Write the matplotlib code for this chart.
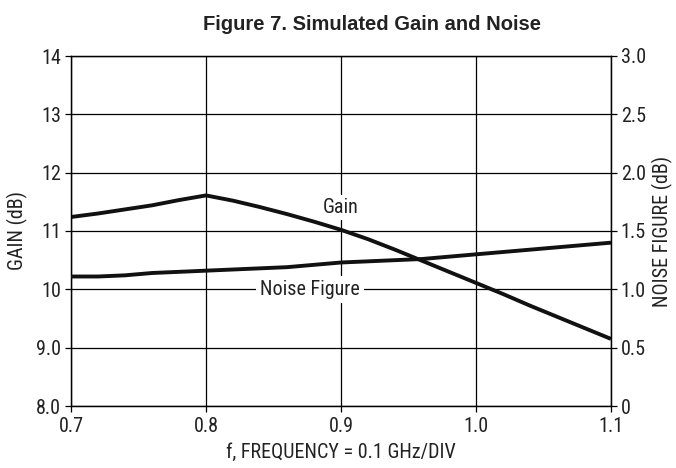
import matplotlib
matplotlib.use("Agg")
import matplotlib.pyplot as plt
from matplotlib import font_manager

freq = [0.70, 0.72, 0.74, 0.76, 0.78, 0.80, 0.82, 0.84, 0.86, 0.88, 0.90,
        0.92, 0.94, 0.96, 0.98, 1.00, 1.02, 1.04, 1.06, 1.08, 1.10]
gain_db = [11.24, 11.30, 11.37, 11.44, 11.53, 11.61, 11.52, 11.41, 11.29, 11.16, 11.02,
           10.86, 10.68, 10.49, 10.30, 10.11, 9.92, 9.72, 9.53, 9.34, 9.15]
nf_db = [1.11, 1.11, 1.12, 1.14, 1.15, 1.16, 1.17, 1.18, 1.19, 1.21, 1.23,
         1.24, 1.25, 1.26, 1.28, 1.30, 1.32, 1.34, 1.36, 1.38, 1.40]

x_ticks = [0.7, 0.8, 0.9, 1.0, 1.1]
x_tick_labels = ["0.7", "0.8", "0.9", "1.0", "1.1"]
gain_ticks = [8, 9, 10, 11, 12, 13, 14]
gain_tick_labels = ["8.0", "9.0", "10", "11", "12", "13", "14"]
nf_ticks = [0, 0.5, 1.0, 1.5, 2.0, 2.5, 3.0]
nf_tick_labels = ["0", "0.5", "1.0", "1.5", "2.0", "2.5", "3.0"]

names = {f.name for f in font_manager.fontManager.ttflist}
narrow = "Liberation Sans"
for cand in ["Roboto Condensed", "PT Sans Narrow", "Archivo Narrow", "Liberation Sans Narrow"]:
    if cand in names:
        narrow = cand
        break
txt = "#222222"
fs = 14.5

fig = plt.figure(figsize=(6.76, 4.68), dpi=100)
ax = fig.add_axes([71/676, 62/468, 540/676, 350/468])
ax2 = ax.twinx()

ax.set_xlim(0.7, 1.1)
ax.set_ylim(8, 14)
ax2.set_ylim(0, 3)

ax.set_xticks(x_ticks)
ax.set_xticklabels(x_tick_labels, family=narrow, fontsize=fs, color=txt)
ax.set_yticks(gain_ticks)
ax.set_yticklabels(gain_tick_labels, family=narrow, fontsize=fs, color=txt)
ax2.set_yticks(nf_ticks)
ax2.set_yticklabels(nf_tick_labels, family=narrow, fontsize=fs, color=txt)

ax.grid(True, color="black", linewidth=0.9)
ax.set_axisbelow(True)
for a in (ax, ax2):
    for s in a.spines.values():
        s.set_linewidth(0.9)
        s.set_color("black")
    a.tick_params(direction="out", length=4, width=0.9, pad=3)
ax.tick_params(axis="x", pad=4)

ax.plot(freq, gain_db, color="#111111", linewidth=2.8, zorder=3, solid_capstyle="butt")
ax2.plot(freq, nf_db, color="#111111", linewidth=2.8, zorder=3, solid_capstyle="butt")

ax.set_ylabel("GAIN (dB)", family=narrow, fontsize=fs, color=txt, labelpad=6)
ax2.set_ylabel("NOISE FIGURE (dB)", family=narrow, fontsize=fs, color=txt, labelpad=4)
ax.set_xlabel("f, FREQUENCY = 0.1 GHz/DIV", family=narrow, fontsize=fs, color=txt, labelpad=5)

ax2.text(0.9, 1.70, "Gain", family=narrow, fontsize=fs, color=txt, ha="center", va="center",
         zorder=5, bbox=dict(facecolor="white", edgecolor="none", pad=2))
ax2.text(0.877, 1.0, "Noise Figure", family=narrow, fontsize=fs, color=txt, ha="center", va="center",
         zorder=5, bbox=dict(facecolor="white", edgecolor="none", pad=3))

fig.text(372/676, 1 - 25/468, "Figure 7. Simulated Gain and Noise", family="Liberation Sans",
         fontweight="bold", fontsize=14.5, color=txt, ha="center", va="center")

fig.savefig("out.png", dpi=100)
